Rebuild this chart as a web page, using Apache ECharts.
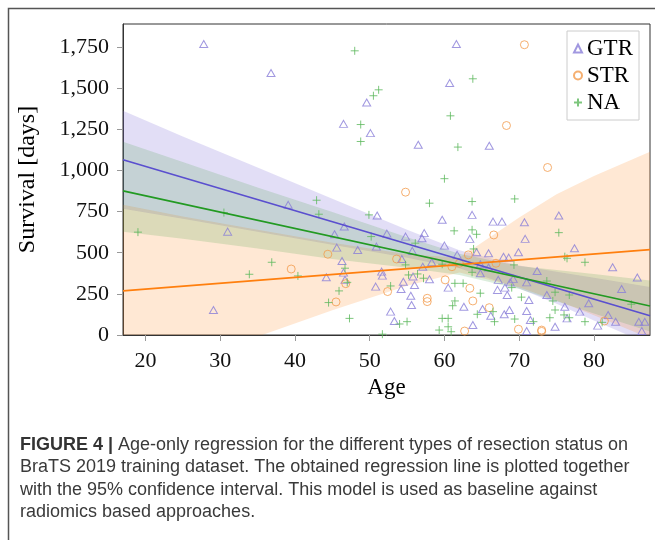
<!DOCTYPE html>
<html>
<head>
<meta charset="utf-8">
<script src="https://cdn.jsdelivr.net/npm/echarts@6/dist/echarts.min.js"></script>
<style>
html, body { margin: 0; padding: 0; background: #fff; }
#chart { width: 655px; height: 540px; }
</style>
</head>
<body>
<div id="chart"></div>
<script>
// points: [age, survival days]
var gtrPoints = [
  [27.8,1768],[36.8,1592],[61.6,1768],[60.7,1531],[49.6,1413],[46.5,1283],[50.1,1227],[56.5,1156],[66.0,1150],
  [39.1,791],[31.0,628],[29.1,152],[44.2,351],
  [51.0,726],[46.6,659],[45.3,612],[52.3,616],[54.8,598],[45.6,531],[48.4,517],[50.9,537],[55.7,511],[54.3,462],
  [46.3,450],[46.5,379],[51.6,385],[51.7,361],[46.7,335],[55.8,355],[54.5,324],[50.8,294],[54.2,280],[55.5,239],
  [55.6,182],[52.8,142],[53.3,85],
  [59.7,700],[63.7,730],[66.5,689],[67.7,689],[70.8,584],[70.7,685],[63.4,584],[57.3,619],[57.0,588],[60.0,543],
  [64.3,503],[65.9,497],[69.9,503],[61.7,487],[67.9,476],[68.6,470],[58.3,442],[57.1,415],[64.8,430],[65.9,410],
  [64.8,375],[58.0,339],[56.0,304],[60.5,288],[67.2,335],[69.2,341],[68.8,320],[71.0,320],[67.1,274],[68.1,288],
  [68.4,243],[62.6,172],[65.1,158],[68.7,152],[66.2,117],[68.0,126],[63.8,61],[71.0,24],[71.0,146],[71.3,213],
  [75.3,726],[77.4,527],[82.5,412],[85.8,349],[83.7,280],[72.4,389],[73.7,243],[79.3,193],[76.1,172],[78.1,142],
  [71.5,91],[76.4,101],[81.9,122],[82.9,81],[80.5,57],[74.8,50],[86.0,81],[86.8,81],[86.4,24]
];
var strPoints = [
  [70.7,1764],[68.3,1273],[73.8,1018],[54.8,868],[39.5,401],[44.4,491],[53.6,462],[46.8,312],[52.4,264],
  [45.5,201],[66.6,608],[63.2,487],[66.9,436],[62.0,436],[61.0,415],[60.1,335],[63.4,284],[57.7,223],
  [57.7,203],[63.8,207],[66.0,166],[62.7,24],[69.9,35],[81.4,85],[73.0,30],[73.0,22]
];
var naPoints = [
  [48.0,1727],[63.8,1557],[51.2,1490],[50.5,1454],[48.8,1279],[48.8,1176],[60.8,1332],[61.8,1142],[60.0,950],
  [30.5,744],[19.0,625],[36.9,442],[33.9,369],[40.4,359],[42.9,819],[43.2,734],[44.5,197],
  [49.9,730],[50.2,598],[46.7,406],[54.8,426],[55.2,365],[47.0,320],[52.8,298],[45.9,268],[54.0,67],[55.0,81],
  [47.3,101],[51.7,5],
  [58.0,801],[63.7,811],[69.4,827],[61.3,633],[63.7,639],[64.3,612],[56.1,558],[63.9,523],[69.3,426],[63.7,381],
  [59.7,430],[56.4,371],[57.2,345],[61.4,314],[62.5,314],[69.0,288],[64.8,254],[61.4,207],[61.1,178],[66.5,142],
  [64.4,126],[59.7,101],[60.5,101],[66.7,81],[69.4,97],[60.5,50],[59.3,30],[60.9,20],
  [75.3,622],[76.1,476],[76.4,466],[78.8,442],[73.7,328],[74.8,260],[76.7,243],[74.5,207],[85.0,187],[74.8,152],
  [71.9,81],[74.1,105],[76.0,122],[76.7,105],[81.1,77],[78.8,81],[70.3,230]
];

// regression lines (ends at the plot edges)
var lineAges = [17, 87.5];
var gtrLine = [1065, 117];
var strLine = [268, 519];
var naLine = [876, 176];

// 95% confidence bands
var bandAges = [17, 25, 35, 45, 55, 62, 70, 75, 80, 87.5];
var gtrUpper = [1363, 1207, 1018, 828, 639, 515, 422, 385, 348, 292];
var gtrLower = [767, 707, 628, 548, 469, 405, 282, 190, 88, -58];
var naUpper = [1174, 1052, 897, 748, 594, 494, 420, 395, 370, 331];
var naLower = [628, 585, 525, 462, 408, 364, 280, 205, 130, 21];
var strUpper = [791, 720, 640, 560, 490, 470, 714, 856, 966, 1113];
var strLower = [-255, -150, -10, 150, 300, 380, 290, 210, 120, -20];

var xTicks = [20, 30, 40, 50, 60, 70, 80];
var yTicks = [0, 250, 500, 750, 1000, 1250, 1500, 1750];

var serif = '"Liberation Serif", "DejaVu Serif", serif';
var sans = '"Liberation Sans", Arial, sans-serif';
var plusPath = 'path://M4,0L4,8M0,4L8,4';

function pairs(xs, ys) {
  return xs.map(function (x, i) { return [x, ys[i]]; });
}

function bandSeries(upper, lower, color, opacity) {
  return {
    type: 'custom',
    clip: true,
    silent: true,
    z: 1,
    data: [[60, 500]],
    renderItem: function (params, api) {
      var pts = [];
      for (var i = 0; i < bandAges.length; i++) pts.push(api.coord([bandAges[i], upper[i]]));
      for (var j = bandAges.length - 1; j >= 0; j--) pts.push(api.coord([bandAges[j], lower[j]]));
      return {
        type: 'polygon',
        shape: { points: pts },
        style: { fill: color, opacity: opacity }
      };
    }
  };
}

var chart = echarts.init(document.getElementById('chart'));
var option = {
  animation: false,
  grid: {
    left: 123, top: 24, right: 5, bottom: 205,
    show: true, borderColor: '#333', borderWidth: 1
  },
  legend: {
    orient: 'vertical',
    right: 16, top: 31,
    data: ['GTR', 'STR', 'NA'],
    itemWidth: 8, itemHeight: 8, itemGap: 4,
    padding: [6, 6, 6, 6],
    borderColor: '#cccccc', borderWidth: 1,
    textStyle: { fontFamily: serif, fontSize: 23, color: '#000' }
  },
  xAxis: {
    type: 'value', min: 17, max: 87.5,
    name: 'Age', nameLocation: 'middle', nameGap: 41,
    nameTextStyle: { fontFamily: serif, fontSize: 23, color: '#000' },
    axisLine: { lineStyle: { color: '#333' } },
    axisTick: { show: true, length: 6, customValues: xTicks, lineStyle: { color: '#999' } },
    axisLabel: { customValues: xTicks, margin: 15, fontFamily: serif, fontSize: 22, color: '#111' },
    splitLine: { show: false }
  },
  yAxis: {
    type: 'value', min: 0, max: 1890,
    name: 'Survival [days]', nameLocation: 'middle', nameGap: 83,
    nameTextStyle: { fontFamily: serif, fontSize: 24, color: '#000' },
    axisLine: { show: true, lineStyle: { color: '#333' } },
    axisTick: { show: true, length: 6, customValues: yTicks, lineStyle: { color: '#999' } },
    axisLabel: {
      customValues: yTicks, margin: 14, fontFamily: serif, fontSize: 22, color: '#111',
      formatter: function (v) { return v.toLocaleString('en-US'); }
    },
    splitLine: { show: false }
  },
  series: [
    bandSeries(gtrUpper, gtrLower, '#7a6ad8', 0.22),
    bandSeries(strUpper, strLower, '#ff8a2a', 0.2),
    bandSeries(naUpper, naLower, '#3f9a3f', 0.18),
    {
      name: 'GTR', type: 'scatter', z: 3,
      symbol: 'triangle', symbolSize: [8, 7],
      itemStyle: { color: 'rgba(0,0,0,0)', borderColor: '#8a7ed8', borderWidth: 1 },
      data: gtrPoints
    },
    {
      name: 'STR', type: 'scatter', z: 3,
      symbol: 'circle', symbolSize: 8,
      itemStyle: { color: 'rgba(0,0,0,0)', borderColor: '#f39b4c', borderWidth: 1 },
      data: strPoints
    },
    {
      name: 'NA', type: 'scatter', z: 3,
      symbol: plusPath, symbolSize: 8,
      itemStyle: { color: 'rgba(0,0,0,0)', borderColor: '#5cb85c', borderWidth: 1 },
      data: naPoints
    },
    {
      type: 'line', z: 4, silent: true, symbol: 'none',
      lineStyle: { color: '#5a4fcf', width: 1.6 },
      data: pairs(lineAges, gtrLine)
    },
    {
      type: 'line', z: 4, silent: true, symbol: 'none',
      lineStyle: { color: '#ff7f0e', width: 1.6 },
      data: pairs(lineAges, strLine)
    },
    {
      type: 'line', z: 4, silent: true, symbol: 'none',
      lineStyle: { color: '#229a22', width: 1.6 },
      data: pairs(lineAges, naLine)
    }
  ],
  graphic: [
    {
      type: 'rect', silent: true,
      shape: { x: 8.5, y: 8.5, width: 700, height: 600 },
      style: { fill: 'none', stroke: '#555', lineWidth: 1.5 }
    },
    {
      type: 'text', left: 20, top: 436,
      style: {
        text: '{b|FIGURE 4 |} Age-only regression for the different types of resection status on',
        font: '18px ' + sans, fill: '#3a3a3a',
        rich: { b: { fontWeight: 'bold', fontSize: 18, fontFamily: sans, fill: '#333' } }
      }
    },
    {
      type: 'text', left: 20, top: 458,
      style: { text: 'BraTS 2019 training dataset. The obtained regression line is plotted together', font: '18px ' + sans, fill: '#3a3a3a' }
    },
    {
      type: 'text', left: 20, top: 481,
      style: { text: 'with the 95% confidence interval. This model is used as baseline against', font: '18px ' + sans, fill: '#3a3a3a' }
    },
    {
      type: 'text', left: 20, top: 503,
      style: { text: 'radiomics based approaches.', font: '18px ' + sans, fill: '#3a3a3a' }
    }
  ]
};
chart.setOption(option);
</script>
</body>
</html>
